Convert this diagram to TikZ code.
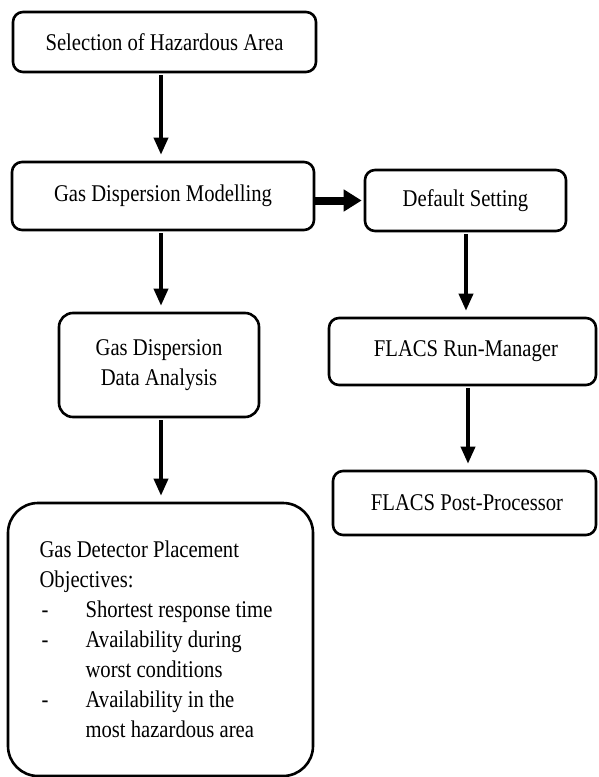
\documentclass[tikz,border=0pt]{standalone}
\usepackage{fontspec}
\setmainfont{Liberation Serif}[FakeStretch=0.86]
\usetikzlibrary{arrows.meta}

\tikzset{
	stepbox/.style={draw, line width=2.6pt, rounded corners=10pt, inner sep=0pt, align=center, font=\fontsize{24}{30}\selectfont},
	flow/.style={line width=3.6pt, -{Triangle[width=14pt,length=17pt]}, shorten >=6pt, shorten <=2pt},
	bigflow/.style={line width=8pt, -{Triangle[width=21pt,length=18pt]}, shorten >=2pt}
}

\begin{document}
\begin{tikzpicture}[x=1pt,y=1pt,yscale=-1]
	\useasboundingbox (0,0) rectangle (598,777);

	% columns of the arrows
	\coordinate (lcol) at (161,0);
	\coordinate (rcol) at (466,0);

	%Shape: Rounded Rect
	\node[stepbox, minimum width=303pt, minimum height=60pt] (sel) at (164.5,42) {Selection of Hazardous Area};
	%Shape: Rounded Rect
	\node[stepbox, minimum width=302pt, minimum height=68pt] (gdm) at (163,196) {Gas Dispersion Modelling};
	%Shape: Rounded Rect
	\node[stepbox, minimum width=201pt, minimum height=61pt] (dflt) at (465.5,200.5) {Default Setting};
	%Shape: Rounded Rect
	\node[stepbox, rounded corners=14pt, minimum width=200pt, minimum height=104pt] (gdda) at (159,365) {Gas Dispersion\\Data Analysis};
	%Shape: Rounded Rect
	\node[stepbox, minimum width=267pt, minimum height=67pt] (runmgr) at (462.5,351.5) {\hspace*{7pt}FLACS Run-Manager};
	%Shape: Rounded Rect
	\node[stepbox, minimum width=263pt, minimum height=64pt] (postproc) at (464.5,503) {\hspace*{5pt}FLACS Post-Processor};
	%Shape: Rounded Rect
	\node[stepbox, rounded corners=30pt, minimum width=305pt, minimum height=273pt, align=left] (obj) at (160.5,639.5) {%
		Gas Detector Placement\\
		Objectives:\\
		\makebox[46pt][l]{\hspace*{2pt}-}Shortest response time\hspace*{9pt}\mbox{}\\
		\makebox[46pt][l]{\hspace*{2pt}-}Availability during\\
		\hspace*{46pt}worst conditions\\
		\makebox[46pt][l]{\hspace*{2pt}-}Availability in the\\
		\hspace*{46pt}most hazardous area};

	%Straight Lines
	\draw[flow] (sel.south -| lcol) -- (gdm.north -| lcol);
	\draw[flow] (gdm.south -| lcol) -- (gdda.north -| lcol);
	\draw[flow] (gdda.south -| lcol) -- (obj.north -| lcol);
	\draw[bigflow] (dflt.west -| gdm.east) -- (dflt.west);
	\draw[flow] (dflt.south -| rcol) -- (runmgr.north -| rcol);
	\draw[flow] ([xshift=2pt]runmgr.south -| rcol) -- ([xshift=2pt]postproc.north -| rcol);
\end{tikzpicture}
\end{document}
